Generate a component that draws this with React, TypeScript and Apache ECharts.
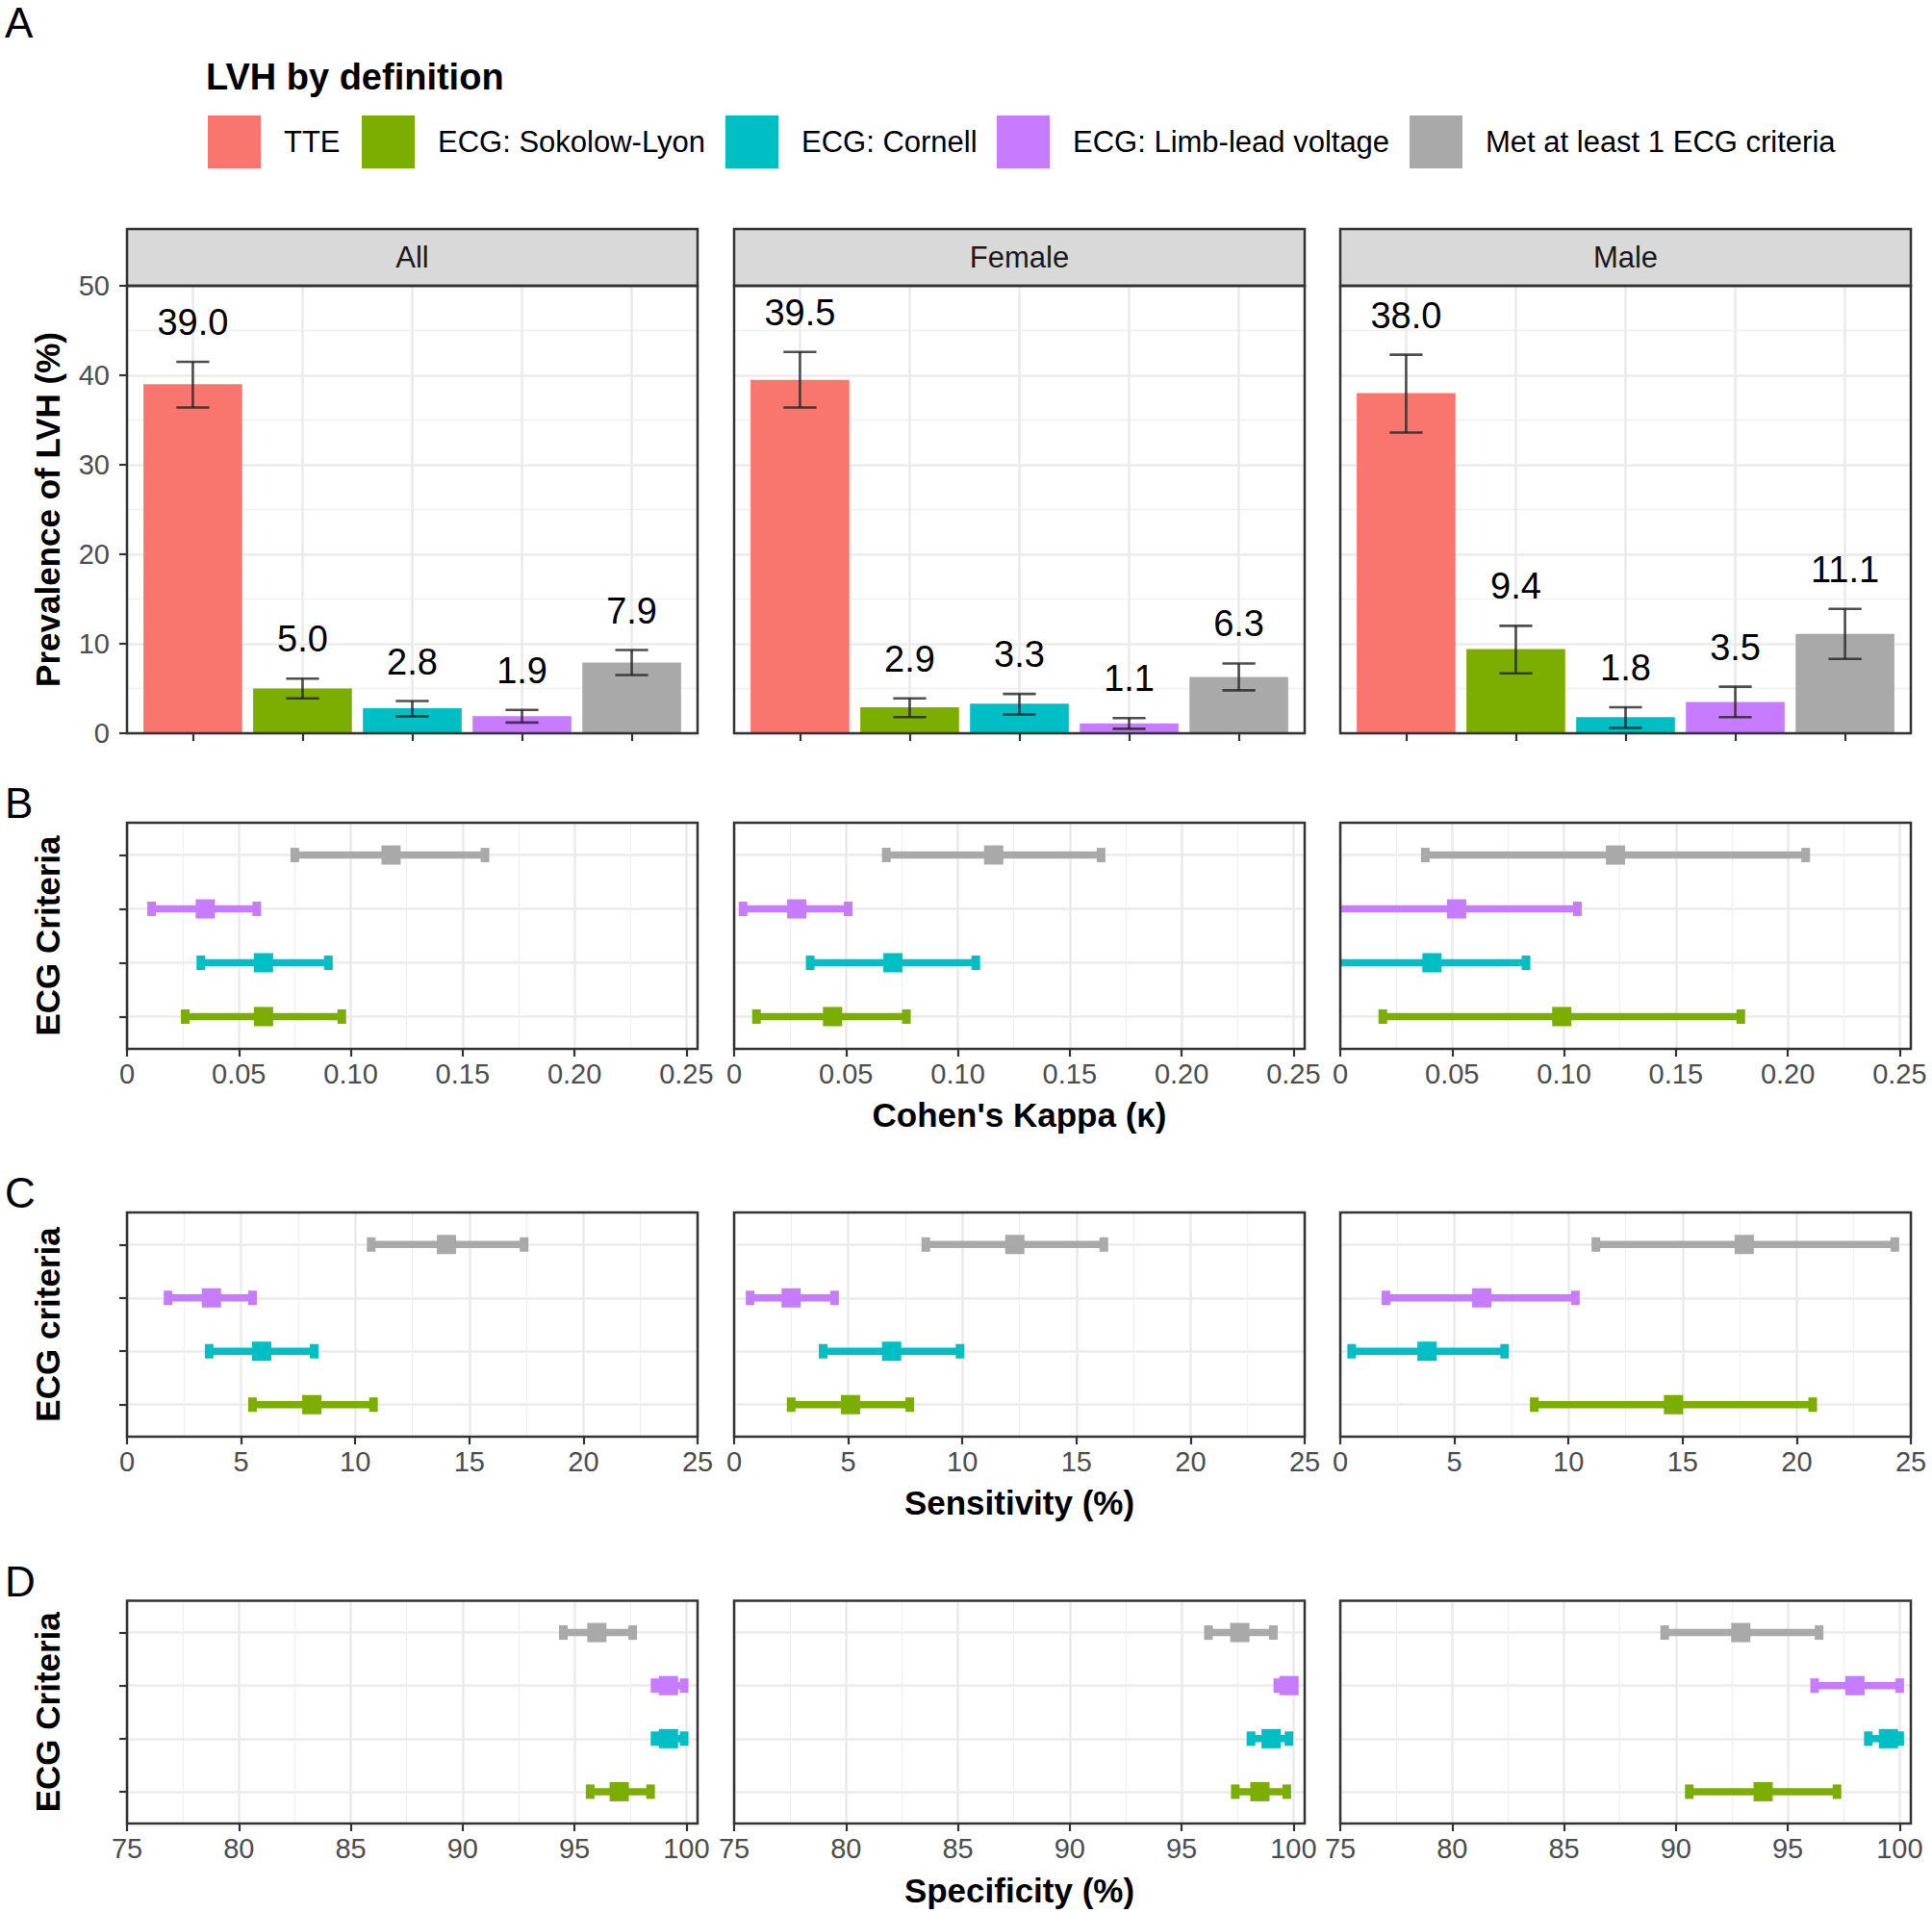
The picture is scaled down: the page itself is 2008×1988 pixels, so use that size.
import React, { useEffect, useRef } from 'react';
import * as echarts from 'echarts';

const FONT = '"Liberation Sans", Arial, Helvetica, sans-serif';

// LVH definitions, in bar and legend order
const DEFINITIONS = ['TTE', 'ECG: Sokolow-Lyon', 'ECG: Cornell', 'ECG: Limb-lead voltage', 'Met at least 1 ECG criteria'];
const DEF_COLORS = ['#F8766D', '#7CAE00', '#00BFC4', '#C77CFF', '#A9A9A9'];
const GROUPS = ['All', 'Female', 'Male'];

// Prevalence of LVH (%) and its 95% CI, in DEFINITIONS order
const PREV_ALL = [39.0, 5.0, 2.8, 1.9, 7.9];
const PREV_ALL_LO = [36.4, 3.9, 1.9, 1.2, 6.5];
const PREV_ALL_HI = [41.5, 6.1, 3.6, 2.6, 9.3];
const PREV_FEMALE = [39.5, 2.9, 3.3, 1.1, 6.3];
const PREV_FEMALE_LO = [36.4, 1.8, 2.1, 0.5, 4.8];
const PREV_FEMALE_HI = [42.6, 3.9, 4.4, 1.7, 7.8];
const PREV_MALE = [38.0, 9.4, 1.8, 3.5, 11.1];
const PREV_MALE_LO = [33.6, 6.7, 0.6, 1.8, 8.3];
const PREV_MALE_HI = [42.3, 12.0, 2.9, 5.2, 13.9];

// ECG criteria rows, bottom to top; each entry is [lower, estimate, upper]
const CRITERIA = ['ECG: Sokolow-Lyon', 'ECG: Cornell', 'ECG: Limb-lead voltage', 'Met at least 1 ECG criteria'];

const KAPPA_ALL = [[0.026, 0.061, 0.096], [0.033, 0.061, 0.090], [0.011, 0.035, 0.058], [0.075, 0.118, 0.160]];
const KAPPA_FEMALE = [[0.010, 0.044, 0.077], [0.034, 0.071, 0.108], [0.004, 0.028, 0.051], [0.068, 0.116, 0.164]];
const KAPPA_MALE = [[0.019, 0.099, 0.179], [-0.0015, 0.041, 0.083], [-0.003, 0.052, 0.106], [0.038, 0.123, 0.208]];

const SENS_ALL = [[5.5, 8.1, 10.8], [3.6, 5.9, 8.2], [1.8, 3.7, 5.5], [10.7, 14.0, 17.4]];
const SENS_FEMALE = [[2.5, 5.1, 7.7], [3.9, 6.9, 9.9], [0.7, 2.5, 4.4], [8.4, 12.3, 16.2]];
const SENS_MALE = [[8.5, 14.6, 20.7], [0.5, 3.8, 7.2], [2.0, 6.2, 10.3], [11.2, 17.7, 24.3]];

const SPEC_ALL = [[95.7, 97.0, 98.4], [98.6, 99.2, 99.9], [98.6, 99.2, 99.9], [94.5, 96.0, 97.6]];
const SPEC_FEMALE = [[97.4, 98.5, 99.7], [98.1, 99.0, 99.8], [99.3, 99.8, 100.0], [96.2, 97.6, 99.1]];
const SPEC_MALE = [[90.6, 93.9, 97.2], [98.6, 99.5, 100.0], [96.2, 98.0, 100.0], [89.5, 92.9, 96.4]];

// Axis ranges: [min, max of ticks, tick step, extra room past the last tick]
const PREV_AXIS = [0, 50, 10];
const KAPPA_AXIS = [0, 0.25, 0.05, 0.005];
const SENS_AXIS = [0, 25, 5, 0];
const SPEC_AXIS = [75, 100, 5, 0.5];

// Page layout (pixels)
const PANEL_LEFT = [132, 763, 1393];
const PANEL_W = 593;
const STRIP_TOP = 238;
const A_TOP = 297;
const A_BOTTOM = 762;
const LEGEND_X = [216, 376, 754, 1036, 1465];

const GRID_MAJOR = { color: '#EBEBEB', width: 2.6 };
const GRID_MINOR = { color: '#F0F0F0', width: 1.3 };
const TICK = { color: '#333333', width: 2.2 };
const EDGE = '#333333';

function buildOption() {
  const grid: any[] = [];
  const xAxis: any[] = [];
  const yAxis: any[] = [];
  const series: any[] = [];
  const graphic: any[] = [];

  const addGrid = (g: any, x: any, y: any) => {
    grid.push(g);
    const i = grid.length - 1;
    xAxis.push({ ...x, gridIndex: i });
    yAxis.push({ ...y, gridIndex: i });
    return i;
  };

  const text = (t: string, x: number, y: number, size: number, extra: any = {}) => ({
    type: 'text',
    x,
    y,
    z: 60,
    rotation: extra.rotation || 0,
    style: {
      text: t,
      fontSize: size,
      fontFamily: FONT,
      fontWeight: extra.bold ? 'bold' : 'normal',
      fill: extra.fill || '#000000',
      align: extra.align || 'center',
      verticalAlign: 'middle',
    },
  });

  const border = (x: number, y: number, w: number, h: number) => ({
    type: 'rect',
    z: 55,
    shape: { x, y, width: w, height: h },
    style: { fill: 'none', stroke: EDGE, lineWidth: 2.5 },
  });

  // ---------- A: prevalence bars ----------
  const prevEst = [PREV_ALL, PREV_FEMALE, PREV_MALE];
  const prevLo = [PREV_ALL_LO, PREV_FEMALE_LO, PREV_MALE_LO];
  const prevHi = [PREV_ALL_HI, PREV_FEMALE_HI, PREV_MALE_HI];
  const unit = PANEL_W / (DEFINITIONS.length - 1 + 1.2);

  GROUPS.forEach((g, p) => {
    const left = PANEL_LEFT[p];
    const h = A_BOTTOM - A_TOP;
    // frame: horizontal grid lines and the y axis
    addGrid(
      { left, top: A_TOP, width: PANEL_W, height: h },
      { type: 'value', show: false, min: 0, max: 1 },
      {
        type: 'value',
        min: PREV_AXIS[0],
        max: PREV_AXIS[1],
        interval: PREV_AXIS[2],
        axisLine: { show: false },
        axisTick: { show: p === 0, length: 8, lineStyle: TICK },
        axisLabel: { show: p === 0, fontSize: 29, color: '#4D4D4D', margin: 18, fontFamily: FONT },
        splitLine: { show: true, lineStyle: GRID_MAJOR },
        minorTick: { show: false, splitNumber: 2 },
        minorSplitLine: { show: true, lineStyle: GRID_MINOR },
      }
    );
    // data: category positions with ggplot-style 0.6 padding
    const di = addGrid(
      { left: left + 0.6 * unit, top: A_TOP, width: PANEL_W - 1.2 * unit, height: h },
      {
        type: 'category',
        data: DEFINITIONS,
        boundaryGap: false,
        axisLine: { show: false },
        axisTick: { show: true, length: 8, interval: 0, lineStyle: TICK },
        axisLabel: { show: false, interval: 0 },
        splitLine: { show: true, interval: 0, lineStyle: GRID_MAJOR },
      },
      { type: 'value', min: PREV_AXIS[0], max: PREV_AXIS[1], show: false }
    );

    DEFINITIONS.forEach((name, d) => {
      series.push({
        type: 'bar',
        name,
        xAxisIndex: di,
        yAxisIndex: di,
        barWidth: 0.9 * unit,
        barGap: '-100%',
        clip: false,
        silent: true,
        itemStyle: { color: DEF_COLORS[d] },
        data: DEFINITIONS.map((_, k) => (k === d ? prevEst[p][k] : '-')),
      });
    });

    series.push({
      type: 'custom',
      xAxisIndex: di,
      yAxisIndex: di,
      silent: true,
      z: 5,
      encode: { x: 0, y: [1, 2, 3] },
      data: DEFINITIONS.map((_, k) => [k, prevLo[p][k], prevHi[p][k], prevEst[p][k]]),
      renderItem: (params: any, api: any) => {
        const k = api.value(0);
        const x = api.coord([k, 0])[0];
        const yLo = api.coord([k, api.value(1)])[1];
        const yHi = api.coord([k, api.value(2)])[1];
        const half = api.size([1, 0])[0] * 0.15;
        const st = { stroke: 'rgba(35,35,35,0.8)', lineWidth: 2.6 };
        return {
          type: 'group',
          children: [
            { type: 'line', shape: { x1: x, y1: yLo, x2: x, y2: yHi }, style: st },
            { type: 'line', shape: { x1: x - half, y1: yHi, x2: x + half, y2: yHi }, style: st },
            { type: 'line', shape: { x1: x - half, y1: yLo, x2: x + half, y2: yLo }, style: st },
            {
              type: 'text',
              x,
              y: yHi - 41,
              style: {
                text: Number(api.value(3)).toFixed(1),
                fontSize: 38,
                fontFamily: FONT,
                fill: '#000000',
                align: 'center',
                verticalAlign: 'middle',
              },
            },
          ],
        };
      },
    });

    // strip and panel frame
    graphic.push({
      type: 'rect',
      z: 50,
      shape: { x: left, y: STRIP_TOP, width: PANEL_W, height: A_TOP - STRIP_TOP },
      style: { fill: '#D9D9D9', stroke: EDGE, lineWidth: 2.5 },
    });
    graphic.push(text(g, left + PANEL_W / 2, (STRIP_TOP + A_TOP) / 2, 31, { fill: '#1A1A1A' }));
    graphic.push(border(left, A_TOP, PANEL_W, h));
  });

  // ---------- B, C, D: forest panels ----------
  const sections = [
    {
      letter: 'B', letterY: 834, title: "Cohen's Kappa (\u03BA)", titleY: 1158, yTitle: 'ECG Criteria',
      top: 855, bottom: 1090, axis: KAPPA_AXIS, data: [KAPPA_ALL, KAPPA_FEMALE, KAPPA_MALE],
      fmt: (v: number) => (v === 0 ? '0' : v.toFixed(2)), clip: true,
    },
    {
      letter: 'C', letterY: 1239, title: 'Sensitivity (%)', titleY: 1561, yTitle: 'ECG criteria',
      top: 1260, bottom: 1493, axis: SENS_AXIS, data: [SENS_ALL, SENS_FEMALE, SENS_MALE],
      fmt: (v: number) => String(v), clip: false,
    },
    {
      letter: 'D', letterY: 1643, title: 'Specificity (%)', titleY: 1964, yTitle: 'ECG Criteria',
      top: 1663.5, bottom: 1895, axis: SPEC_AXIS, data: [SPEC_ALL, SPEC_FEMALE, SPEC_MALE],
      fmt: (v: number) => String(v), clip: false,
    },
  ];

  sections.forEach((s) => {
    const h = s.bottom - s.top;
    const uy = h / (CRITERIA.length - 1 + 1.2);
    const [min, max, step, pad] = s.axis;
    const dataW = (PANEL_W * (max - min)) / (max + pad - min);

    GROUPS.forEach((g, p) => {
      const left = PANEL_LEFT[p];
      // rows: horizontal grid lines and y ticks
      addGrid(
        { left, top: s.top + 0.6 * uy, width: PANEL_W, height: h - 1.2 * uy },
        { type: 'value', show: false, min: 0, max: 1 },
        {
          type: 'category',
          data: CRITERIA,
          boundaryGap: false,
          axisLine: { show: false },
          axisLabel: { show: false, interval: 0 },
          axisTick: { show: p === 0, length: 8, interval: 0, lineStyle: TICK },
          splitLine: { show: true, interval: 0, lineStyle: GRID_MAJOR },
        }
      );
      // data: value axis with its ticks
      const di = addGrid(
        { left, top: s.top, width: dataW, height: h },
        {
          type: 'value',
          min,
          max,
          interval: step,
          axisLine: { show: false },
          axisTick: { show: true, length: 8, lineStyle: TICK },
          axisLabel: { fontSize: 29, color: '#4D4D4D', margin: 11, fontFamily: FONT, formatter: s.fmt },
          splitLine: { show: true, lineStyle: GRID_MAJOR },
          minorTick: { show: false, splitNumber: 2 },
          minorSplitLine: { show: true, lineStyle: GRID_MINOR },
        },
        { type: 'value', min: 0, max: CRITERIA.length - 1 + 1.2, show: false }
      );

      series.push({
        type: 'custom',
        xAxisIndex: di,
        yAxisIndex: di,
        silent: true,
        clip: s.clip,
        z: 5,
        encode: { x: [0, 1, 2], y: 3 },
        data: s.data[p].map((r, i) => [r[0], r[1], r[2], i]),
        renderItem: (params: any, api: any) => {
          const row = api.value(3);
          const yv = row + 0.6;
          const y = api.coord([api.value(1), yv])[1];
          const xl = api.coord([api.value(0), yv])[0];
          const xe = api.coord([api.value(1), yv])[0];
          const xh = api.coord([api.value(2), yv])[0];
          const color = DEF_COLORS[row + 1];
          const cap = { stroke: color, lineWidth: 9 };
          return {
            type: 'group',
            children: [
              { type: 'line', shape: { x1: xl, y1: y, x2: xh, y2: y }, style: { stroke: color, lineWidth: 7.5 } },
              { type: 'line', shape: { x1: xl, y1: y - 7.5, x2: xl, y2: y + 7.5 }, style: cap },
              { type: 'line', shape: { x1: xh, y1: y - 7.5, x2: xh, y2: y + 7.5 }, style: cap },
              { type: 'rect', shape: { x: xe - 10, y: y - 10, width: 20, height: 20 }, style: { fill: color } },
            ],
          };
        },
      });

      graphic.push(border(left, s.top, PANEL_W, h));
    });

    graphic.push(text(s.letter, 5, s.letterY, 44, { align: 'left' }));
    graphic.push(text(s.title, PANEL_LEFT[1] + PANEL_W / 2, s.titleY, 35, { bold: true }));
    graphic.push(text(s.yTitle, 49, (s.top + s.bottom) / 2, 35, { bold: true, rotation: Math.PI / 2 }));
  });

  // ---------- headings ----------
  graphic.push(text('A', 5, 23, 44, { align: 'left' }));
  graphic.push(text('Prevalence of LVH (%)', 49, (A_TOP + A_BOTTOM) / 2, 35, { bold: true, rotation: Math.PI / 2 }));
  graphic.push(text('LVH by definition', 214, 80, 38, { bold: true, align: 'left' }));

  const legend = DEFINITIONS.map((name, i) => ({
    data: [name],
    left: LEGEND_X[i],
    top: 120,
    padding: 0,
    orient: 'horizontal',
    icon: 'rect',
    itemWidth: 55,
    itemHeight: 55,
    selectedMode: false,
    textStyle: { fontSize: 31, color: '#000000', fontFamily: FONT, padding: [0, 0, 0, 19] },
  }));

  return {
    animation: false,
    backgroundColor: '#FFFFFF',
    textStyle: { fontFamily: FONT },
    legend,
    grid,
    xAxis,
    yAxis,
    series,
    graphic,
  };
}

export default function App() {
  const ref = useRef<HTMLDivElement>(null);

  useEffect(() => {
    document.body.style.margin = '0';
    if (!ref.current) return;
    const chart = echarts.init(ref.current, undefined, { renderer: 'svg' });
    chart.setOption(buildOption() as any);
    return () => chart.dispose();
  }, []);

  return <div ref={ref} style={{ width: 2008, height: 1988, background: '#FFFFFF' }} />;
}
